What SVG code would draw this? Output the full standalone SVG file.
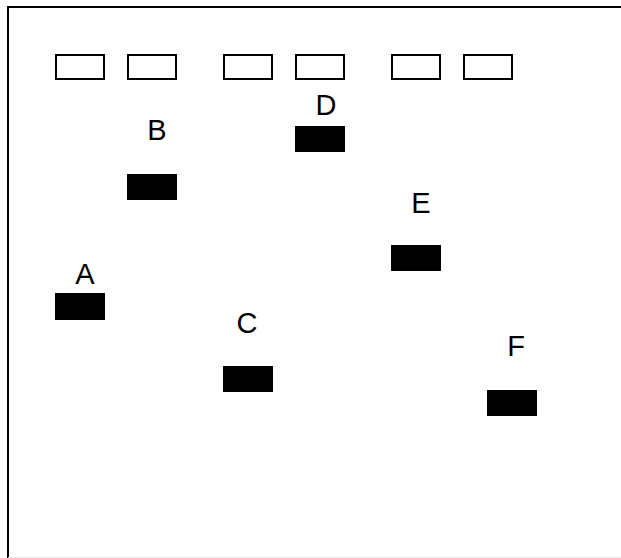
<svg xmlns="http://www.w3.org/2000/svg" width="621" height="558" viewBox="0 0 621 558">
<style>
.frame{fill:none;stroke:#000;stroke-width:2}
.well{fill:#fff;stroke:#000;stroke-width:2}
.band{fill:#000}
.lbl{font-family:"Liberation Sans",Arial,sans-serif;font-size:29px;fill:#000;text-anchor:middle}
</style>
<rect width="621" height="558" fill="#fff"/>
<rect class="frame" x="8" y="7" width="700" height="600"/>
<line x1="8" y1="557.5" x2="621" y2="557.5" stroke="#e6e6e6" stroke-width="1"/>
<g id="wells">
<rect class="well" x="56" y="55" width="48" height="24"/>
<rect class="well" x="128" y="55" width="48" height="24"/>
<rect class="well" x="224" y="55" width="48" height="24"/>
<rect class="well" x="296" y="55" width="48" height="24"/>
<rect class="well" x="392" y="55" width="48" height="24"/>
<rect class="well" x="464" y="55" width="48" height="24"/>
</g>
<g id="A"><rect class="band" x="55" y="293" width="50" height="27"/><text class="lbl" x="85" y="284">A</text></g>
<g id="B"><rect class="band" x="127" y="174" width="50" height="26"/><text class="lbl" x="157" y="140">B</text></g>
<g id="C"><rect class="band" x="223" y="366" width="50" height="26"/><text class="lbl" x="247" y="333">C</text></g>
<g id="D"><rect class="band" x="295" y="126" width="50" height="26"/><text class="lbl" x="326" y="115">D</text></g>
<g id="E"><rect class="band" x="391" y="245" width="50" height="26"/><text class="lbl" x="421" y="213">E</text></g>
<g id="F"><rect class="band" x="487" y="390" width="50" height="26"/><text class="lbl" x="516" y="356">F</text></g>
<g id="connectors"/>
</svg>
